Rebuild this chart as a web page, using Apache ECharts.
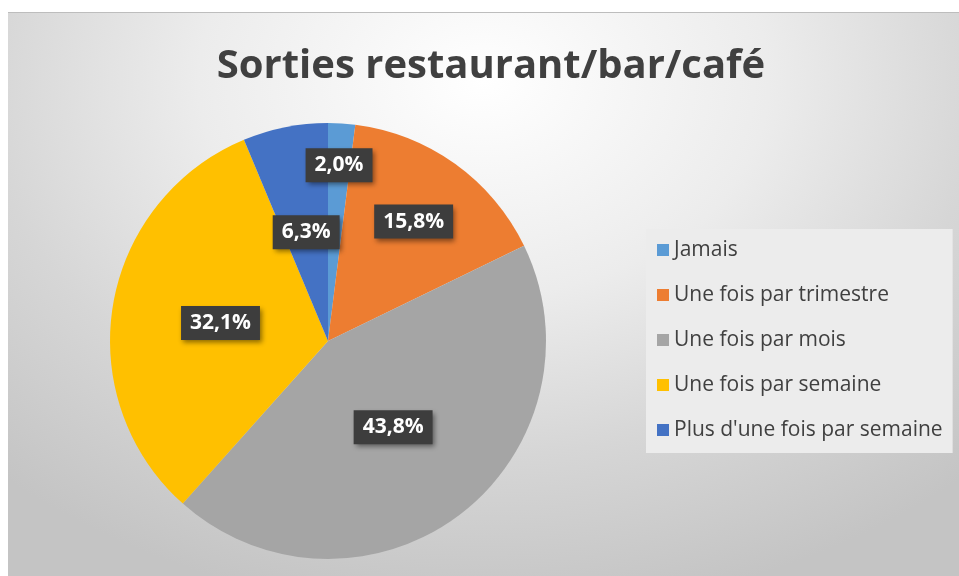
<!DOCTYPE html>
<html>
<head>
<meta charset="utf-8">
<script src="https://cdn.jsdelivr.net/npm/echarts@6/dist/echarts.min.js"></script>
<style>
  html, body { margin: 0; padding: 0; background: #ffffff; }
  #main {
    position: absolute; left: 8px; top: 12px; width: 951px; height: 564px;
    background: radial-gradient(ellipse 75% 95% at 50% 12%, #ffffff 0%, #ececec 40%, #d6d6d6 70%, #c4c4c4 100%);
    border-top: 1px solid #bdbdbd;
  }
</style>
</head>
<body>
<div id="main"></div>
<script>
// categories and values (percent)
var categories = ['Jamais', 'Une fois par trimestre', 'Une fois par mois', 'Une fois par semaine', "Plus d'une fois par semaine"];
var values = [2.0, 15.8, 43.8, 32.1, 6.3];
var colors = ['#5b9bd5', '#ed7d31', '#a5a5a5', '#ffc000', '#4472c4'];

// pie geometry (inside the chart div)
var PIE_CX = 320, PIE_CY = 328, PIE_R = 218;
// distance of each label from the centre
var labelDist = [176, 147, 108, 109, 111];

var chartDom = document.getElementById('main');
var myChart = echarts.init(chartDom, null, {renderer: 'canvas'});

var option = {
    animation: false,
    backgroundColor: 'transparent',
    color: colors,
    title: {
        text: 'Sorties restaurant/bar/café',
        left: 478,
        textAlign: 'center',
        top: 29,
        textStyle: {
            fontFamily: 'Open Sans',
            fontWeight: 'bold',
            fontSize: 40,
            color: '#404040'
        }
    },
    legend: {
        orient: 'vertical',
        left: 638,
        top: 216,
        backgroundColor: '#ececec',
        padding: [10, 10, 12, 11],
        itemWidth: 12,
        itemHeight: 12,
        itemGap: 23,
        icon: 'rect',
        data: categories,
        textStyle: {
            fontFamily: 'Open Sans',
            fontSize: 21,
            lineHeight: 22,
            color: '#404040'
        }
    },
    series: [{
        type: 'pie',
        center: [PIE_CX, PIE_CY],
        radius: PIE_R,
        startAngle: 90,
        clockwise: true,
        silent: true,
        itemStyle: { borderWidth: 0 },
        label: {
            show: true,
            position: 'inside',
            formatter: function (p) {
                return p.value.toFixed(1).replace('.', ',') + '%';
            },
            fontFamily: 'Open Sans',
            fontWeight: 'bold',
            fontSize: 21,
            color: '#ffffff',
            backgroundColor: '#3d3d3d',
            padding: [7, 9, 6, 9],
            shadowColor: 'rgba(0,0,0,0.45)',
            shadowBlur: 5,
            shadowOffsetX: 2,
            shadowOffsetY: 3
        },
        labelLine: { show: false },
        labelLayout: function (p) {
            var r = p.labelRect;
            var cx = r.x + r.width / 2, cy = r.y + r.height / 2;
            var dx = cx - PIE_CX, dy = cy - PIE_CY;
            var d = Math.sqrt(dx * dx + dy * dy) || 1;
            var k = labelDist[p.dataIndex] / d;
            return {
                x: PIE_CX + dx * k,
                y: PIE_CY + dy * k,
                align: 'center',
                verticalAlign: 'middle'
            };
        },
        data: categories.map(function (c, i) {
            return { name: c, value: values[i] };
        })
    }]
};

myChart.setOption(option);
</script>
</body>
</html>
